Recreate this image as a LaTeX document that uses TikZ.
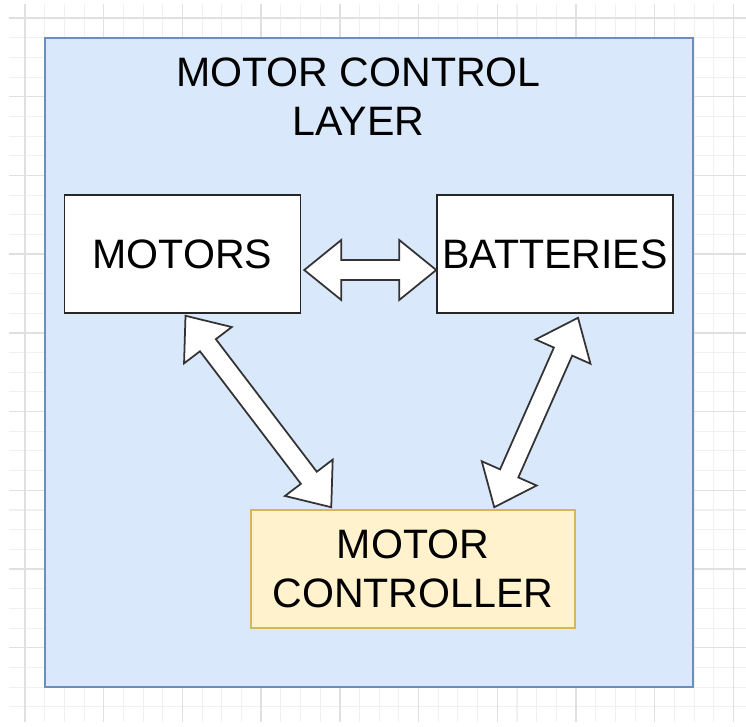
\documentclass[tikz,border=0pt]{standalone}
\usepackage{fontspec}
\setmainfont{Liberation Sans}
\usetikzlibrary{calc}
\definecolor{layerfill}{HTML}{DAE8FC}
\definecolor{layerdraw}{HTML}{6C8EBF}
\definecolor{ctrlfill}{HTML}{FFF2CC}
\definecolor{ctrldraw}{HTML}{D6B656}
\newcommand{\dblarrow}[2]{%
  \coordinate (h1) at ($(#1)!0.74cm!(#2)$);
  \coordinate (h2) at ($(#2)!0.74cm!(#1)$);
  \draw[blockarrow] (#1) -- ($(h1)!0.6cm!90:(#2)$) -- ($(h1)!0.2cm!90:(#2)$)
    -- ($(h2)!0.2cm!-90:(#1)$) -- ($(h2)!0.6cm!-90:(#1)$) -- (#2)
    -- ($(h2)!0.6cm!90:(#1)$) -- ($(h2)!0.2cm!90:(#1)$)
    -- ($(h1)!0.2cm!-90:(#2)$) -- ($(h1)!0.6cm!-90:(#2)$) -- cycle;}

\begin{document}
\begin{tikzpicture}[x=0.02cm, y=-0.02cm,
    every node/.style={font=\fontsize{23.4}{27.9}\selectfont},
    gridminor/.style={draw=black!6, line width=0.6pt},
    gridmajor/.style={draw=black!12, line width=0.8pt},
    box/.style={draw=black!85, fill=white, line width=0.9pt, minimum width=4.72cm, minimum height=2.36cm, inner sep=0pt},
    blockarrow/.style={draw=black!80, fill=white, line width=1pt, line join=miter}]
	\useasboundingbox (0,0) rectangle (746,726);
	\fill[white] (0,0) rectangle (746,726);
	\foreach \i in {0,...,36} \draw[gridminor] ({25+19.68*\i},4) -- ({25+19.68*\i},722);
	\foreach \j in {0,...,35} \draw[gridminor] (9,{18+19.68*\j}) -- (746,{18+19.68*\j});
	\foreach \i in {0,4,...,36} \draw[gridmajor] ({25+19.68*\i},4) -- ({25+19.68*\i},722);
	\foreach \j in {0,4,...,32} \draw[gridmajor] (9,{18+19.68*\j}) -- (746,{18+19.68*\j});
	\node[draw=layerdraw, fill=layerfill, line width=0.9pt, minimum width=12.96cm, minimum height=12.98cm, inner sep=0pt] (layer) at (369,362.5) {};
	\node[align=center, inner sep=0pt] (title) at (358.5,97) {MOTOR CONTROL\\LAYER};
	\node[box] (mot) at (182.5,254) {MOTORS};
	\node[box] (bat) at (555,254) {BATTERIES};
	\node[box, draw=ctrldraw, fill=ctrlfill, minimum width=6.48cm, align=center] (ctl) at (413,569) {MOTOR\\CONTROLLER};
	\coordinate (m1) at ($(mot.east)+(3,16)$);
	\coordinate (b1) at ($(bat.west)+(0,16)$);
	\coordinate (m2) at ($(mot.south)+(3,2)$);
	\coordinate (c1) at ($(ctl.north west)+(81,-2)$);
	\coordinate (b2) at ($(bat.south)+(23,4)$);
	\coordinate (c2) at ($(ctl.north west)+(244,-2)$);
	\dblarrow{m1}{b1}
	\dblarrow{m2}{c1}
	\dblarrow{b2}{c2}
\end{tikzpicture}
\end{document}
